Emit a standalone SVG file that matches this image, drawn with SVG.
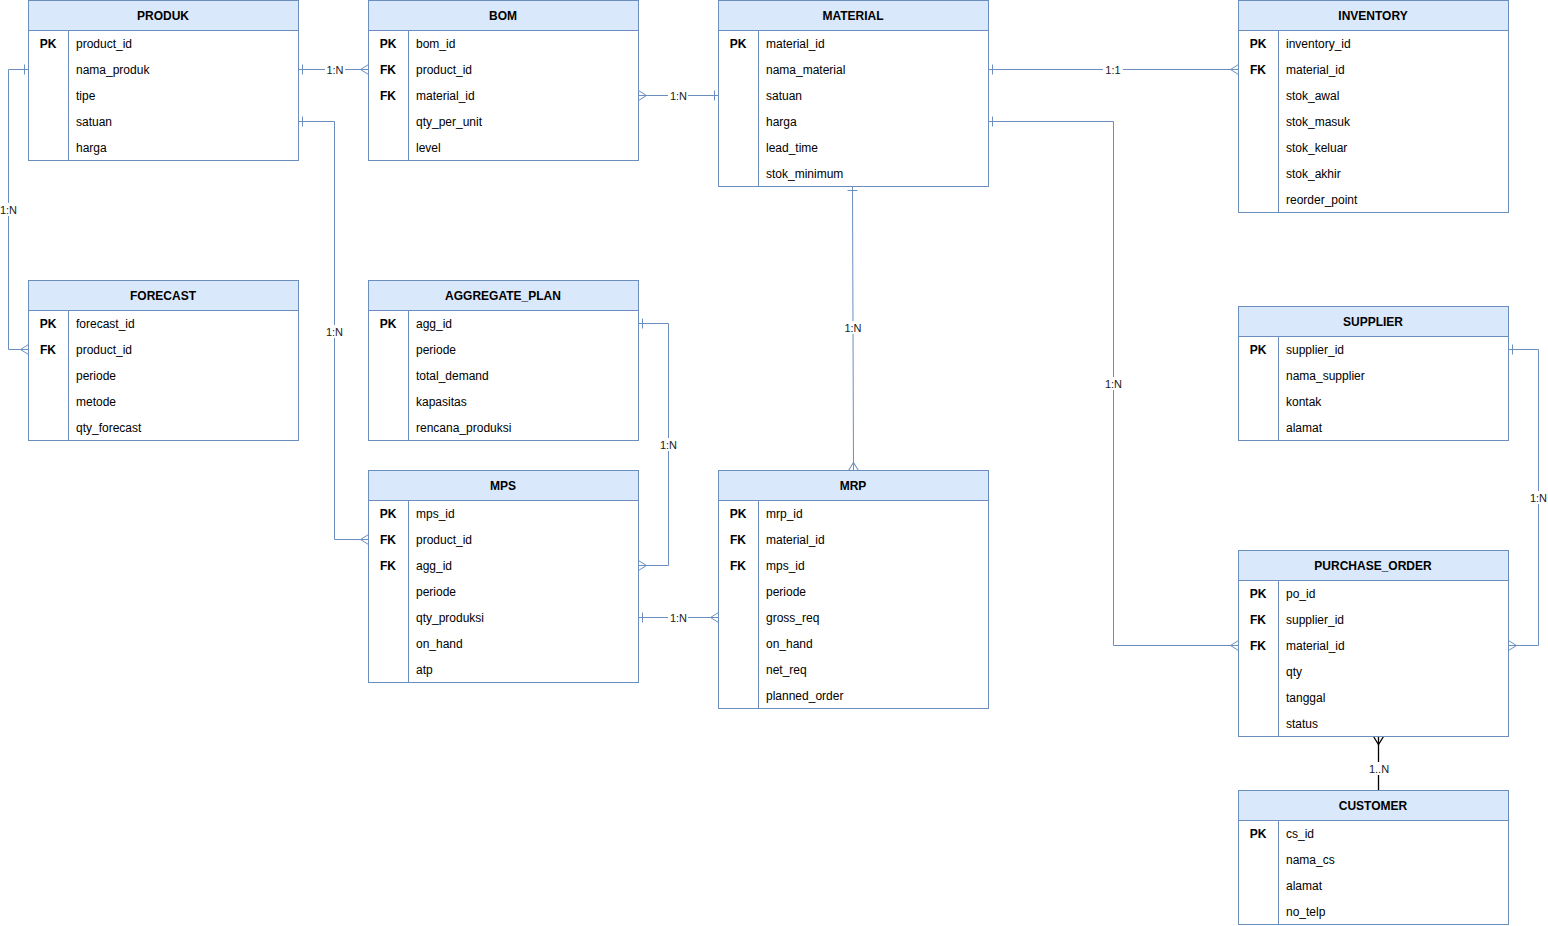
<svg xmlns="http://www.w3.org/2000/svg" width="1548" height="926" viewBox="0 0 1548 926">
<style>
text{font-family:"Liberation Sans",Arial,sans-serif;fill:#000}
.hdr{fill:#dae8fc;stroke:#6c8ebf;stroke-width:1}
.body{fill:#fff;stroke:#6c8ebf;stroke-width:1}
.div{stroke:#6c8ebf;stroke-width:1}
.title{font-size:12px;font-weight:bold;text-anchor:middle}
.key{font-size:12px;font-weight:bold;text-anchor:middle}
.fld{font-size:12px}
.conn{fill:none;stroke:#6c8ebf;stroke-width:1}
.dark{fill:none;stroke:#000;stroke-width:1.3}
.lbl{font-size:11px;text-anchor:middle;fill:#1a1a1a}
.lblbg{fill:#fff}
</style>
<defs>
<marker id="one" markerUnits="userSpaceOnUse" orient="auto-start-reverse" overflow="visible" markerWidth="1" markerHeight="1" refX="0" refY="0">
<path d="M-4,-5 V5" fill="none" stroke="#6c8ebf" stroke-width="1"/>
</marker>
<marker id="many" markerUnits="userSpaceOnUse" orient="auto-start-reverse" overflow="visible" markerWidth="1" markerHeight="1" refX="0" refY="0">
<path d="M0,-5 L-8,0 L0,5" fill="none" stroke="#6c8ebf" stroke-width="1"/>
</marker>
<marker id="manyDark" markerUnits="userSpaceOnUse" orient="auto-start-reverse" overflow="visible" markerWidth="1" markerHeight="1" refX="0" refY="0">
<path d="M0,-5 L-8,0 L0,5" fill="none" stroke="#000" stroke-width="1.3"/>
</marker>
</defs>
<rect width="1548" height="926" fill="#fff"/>

<g id="connectors">
<path class="conn" d="M298.5,69.5 H368.5" marker-start="url(#one)" marker-end="url(#many)"/>
<path class="conn" d="M28.5,69.5 H8.5 V349.5 H28.5" marker-start="url(#one)" marker-end="url(#many)"/>
<path class="conn" d="M298.5,121.5 H334.5 V539.5 H368.5" marker-start="url(#one)" marker-end="url(#many)"/>
<path class="conn" d="M638.5,95.5 H718.5" marker-start="url(#many)" marker-end="url(#one)"/>
<path class="conn" d="M988.5,69.5 H1238.5" marker-start="url(#one)" marker-end="url(#many)"/>
<path class="conn" d="M988.5,121.5 H1113.5 V645.5 H1238.5" marker-start="url(#one)" marker-end="url(#many)"/>
<path class="conn" d="M852.5,186.5 L853.5,470.5" marker-start="url(#one)" marker-end="url(#many)"/>
<path class="conn" d="M638.5,323.5 H668.5 V565.5 H638.5" marker-start="url(#one)" marker-end="url(#many)"/>
<path class="conn" d="M638.5,617.5 H718.5" marker-start="url(#one)" marker-end="url(#many)"/>
<path class="conn" d="M1508.5,349.5 H1538.5 V645.5 H1508.5" marker-start="url(#one)" marker-end="url(#many)"/>
<path class="dark" d="M1378.5,790 V736.5" marker-end="url(#manyDark)"/>

<rect class="lblbg" x="325" y="63" width="20" height="13"/><text class="lbl" x="335" y="73.5">1:N</text>
<rect class="lblbg" x="0" y="203" width="18" height="13"/><text class="lbl" x="8.5" y="213.5">1:N</text>
<rect class="lblbg" x="324" y="325" width="20" height="13"/><text class="lbl" x="334.5" y="335.5">1:N</text>
<rect class="lblbg" x="668" y="89" width="20" height="13"/><text class="lbl" x="678.5" y="99.5">1:N</text>
<rect class="lblbg" x="1103" y="63" width="20" height="13"/><text class="lbl" x="1113" y="73.5">1:1</text>
<rect class="lblbg" x="1103" y="377" width="20" height="13"/><text class="lbl" x="1113.5" y="387.5">1:N</text>
<rect class="lblbg" x="843" y="321" width="20" height="13"/><text class="lbl" x="853" y="331.5">1:N</text>
<rect class="lblbg" x="658" y="438" width="20" height="13"/><text class="lbl" x="668.5" y="448.5">1:N</text>
<rect class="lblbg" x="668" y="611" width="20" height="13"/><text class="lbl" x="678.5" y="621.5">1:N</text>
<rect class="lblbg" x="1528" y="491" width="20" height="13"/><text class="lbl" x="1538.5" y="501.5">1:N</text>
<rect class="lblbg" x="1367" y="762" width="24" height="13"/><text class="lbl" x="1379" y="772.5">1..N</text>
</g>

<g id="produk" transform="translate(28,0)">
<rect class="hdr" x="0.5" y="0.5" width="270" height="30"/>
<rect class="body" x="0.5" y="30.5" width="270" height="130"/>
<line class="div" x1="40.5" y1="30.5" x2="40.5" y2="160.5"/>
<text class="title" x="135" y="20">PRODUK</text>
<text class="key" x="20" y="48">PK</text>
<text class="fld" x="48" y="48">product_id</text>
<text class="fld" x="48" y="74">nama_produk</text>
<text class="fld" x="48" y="100">tipe</text>
<text class="fld" x="48" y="126">satuan</text>
<text class="fld" x="48" y="152">harga</text>
</g>

<g id="bom" transform="translate(368,0)">
<rect class="hdr" x="0.5" y="0.5" width="270" height="30"/>
<rect class="body" x="0.5" y="30.5" width="270" height="130"/>
<line class="div" x1="40.5" y1="30.5" x2="40.5" y2="160.5"/>
<text class="title" x="135" y="20">BOM</text>
<text class="key" x="20" y="48">PK</text>
<text class="fld" x="48" y="48">bom_id</text>
<text class="key" x="20" y="74">FK</text>
<text class="fld" x="48" y="74">product_id</text>
<text class="key" x="20" y="100">FK</text>
<text class="fld" x="48" y="100">material_id</text>
<text class="fld" x="48" y="126">qty_per_unit</text>
<text class="fld" x="48" y="152">level</text>
</g>

<g id="material" transform="translate(718,0)">
<rect class="hdr" x="0.5" y="0.5" width="270" height="30"/>
<rect class="body" x="0.5" y="30.5" width="270" height="156"/>
<line class="div" x1="40.5" y1="30.5" x2="40.5" y2="186.5"/>
<text class="title" x="135" y="20">MATERIAL</text>
<text class="key" x="20" y="48">PK</text>
<text class="fld" x="48" y="48">material_id</text>
<text class="fld" x="48" y="74">nama_material</text>
<text class="fld" x="48" y="100">satuan</text>
<text class="fld" x="48" y="126">harga</text>
<text class="fld" x="48" y="152">lead_time</text>
<text class="fld" x="48" y="178">stok_minimum</text>
</g>

<g id="inventory" transform="translate(1238,0)">
<rect class="hdr" x="0.5" y="0.5" width="270" height="30"/>
<rect class="body" x="0.5" y="30.5" width="270" height="182"/>
<line class="div" x1="40.5" y1="30.5" x2="40.5" y2="212.5"/>
<text class="title" x="135" y="20">INVENTORY</text>
<text class="key" x="20" y="48">PK</text>
<text class="fld" x="48" y="48">inventory_id</text>
<text class="key" x="20" y="74">FK</text>
<text class="fld" x="48" y="74">material_id</text>
<text class="fld" x="48" y="100">stok_awal</text>
<text class="fld" x="48" y="126">stok_masuk</text>
<text class="fld" x="48" y="152">stok_keluar</text>
<text class="fld" x="48" y="178">stok_akhir</text>
<text class="fld" x="48" y="204">reorder_point</text>
</g>

<g id="forecast" transform="translate(28,280)">
<rect class="hdr" x="0.5" y="0.5" width="270" height="30"/>
<rect class="body" x="0.5" y="30.5" width="270" height="130"/>
<line class="div" x1="40.5" y1="30.5" x2="40.5" y2="160.5"/>
<text class="title" x="135" y="20">FORECAST</text>
<text class="key" x="20" y="48">PK</text>
<text class="fld" x="48" y="48">forecast_id</text>
<text class="key" x="20" y="74">FK</text>
<text class="fld" x="48" y="74">product_id</text>
<text class="fld" x="48" y="100">periode</text>
<text class="fld" x="48" y="126">metode</text>
<text class="fld" x="48" y="152">qty_forecast</text>
</g>

<g id="aggregate_plan" transform="translate(368,280)">
<rect class="hdr" x="0.5" y="0.5" width="270" height="30"/>
<rect class="body" x="0.5" y="30.5" width="270" height="130"/>
<line class="div" x1="40.5" y1="30.5" x2="40.5" y2="160.5"/>
<text class="title" x="135" y="20">AGGREGATE_PLAN</text>
<text class="key" x="20" y="48">PK</text>
<text class="fld" x="48" y="48">agg_id</text>
<text class="fld" x="48" y="74">periode</text>
<text class="fld" x="48" y="100">total_demand</text>
<text class="fld" x="48" y="126">kapasitas</text>
<text class="fld" x="48" y="152">rencana_produksi</text>
</g>

<g id="supplier" transform="translate(1238,306)">
<rect class="hdr" x="0.5" y="0.5" width="270" height="30"/>
<rect class="body" x="0.5" y="30.5" width="270" height="104"/>
<line class="div" x1="40.5" y1="30.5" x2="40.5" y2="134.5"/>
<text class="title" x="135" y="20">SUPPLIER</text>
<text class="key" x="20" y="48">PK</text>
<text class="fld" x="48" y="48">supplier_id</text>
<text class="fld" x="48" y="74">nama_supplier</text>
<text class="fld" x="48" y="100">kontak</text>
<text class="fld" x="48" y="126">alamat</text>
</g>

<g id="mps" transform="translate(368,470)">
<rect class="hdr" x="0.5" y="0.5" width="270" height="30"/>
<rect class="body" x="0.5" y="30.5" width="270" height="182"/>
<line class="div" x1="40.5" y1="30.5" x2="40.5" y2="212.5"/>
<text class="title" x="135" y="20">MPS</text>
<text class="key" x="20" y="48">PK</text>
<text class="fld" x="48" y="48">mps_id</text>
<text class="key" x="20" y="74">FK</text>
<text class="fld" x="48" y="74">product_id</text>
<text class="key" x="20" y="100">FK</text>
<text class="fld" x="48" y="100">agg_id</text>
<text class="fld" x="48" y="126">periode</text>
<text class="fld" x="48" y="152">qty_produksi</text>
<text class="fld" x="48" y="178">on_hand</text>
<text class="fld" x="48" y="204">atp</text>
</g>

<g id="mrp" transform="translate(718,470)">
<rect class="hdr" x="0.5" y="0.5" width="270" height="30"/>
<rect class="body" x="0.5" y="30.5" width="270" height="208"/>
<line class="div" x1="40.5" y1="30.5" x2="40.5" y2="238.5"/>
<text class="title" x="135" y="20">MRP</text>
<text class="key" x="20" y="48">PK</text>
<text class="fld" x="48" y="48">mrp_id</text>
<text class="key" x="20" y="74">FK</text>
<text class="fld" x="48" y="74">material_id</text>
<text class="key" x="20" y="100">FK</text>
<text class="fld" x="48" y="100">mps_id</text>
<text class="fld" x="48" y="126">periode</text>
<text class="fld" x="48" y="152">gross_req</text>
<text class="fld" x="48" y="178">on_hand</text>
<text class="fld" x="48" y="204">net_req</text>
<text class="fld" x="48" y="230">planned_order</text>
</g>

<g id="purchase_order" transform="translate(1238,550)">
<rect class="hdr" x="0.5" y="0.5" width="270" height="30"/>
<rect class="body" x="0.5" y="30.5" width="270" height="156"/>
<line class="div" x1="40.5" y1="30.5" x2="40.5" y2="186.5"/>
<text class="title" x="135" y="20">PURCHASE_ORDER</text>
<text class="key" x="20" y="48">PK</text>
<text class="fld" x="48" y="48">po_id</text>
<text class="key" x="20" y="74">FK</text>
<text class="fld" x="48" y="74">supplier_id</text>
<text class="key" x="20" y="100">FK</text>
<text class="fld" x="48" y="100">material_id</text>
<text class="fld" x="48" y="126">qty</text>
<text class="fld" x="48" y="152">tanggal</text>
<text class="fld" x="48" y="178">status</text>
</g>

<g id="customer" transform="translate(1238,790)">
<rect class="hdr" x="0.5" y="0.5" width="270" height="30"/>
<rect class="body" x="0.5" y="30.5" width="270" height="104"/>
<line class="div" x1="40.5" y1="30.5" x2="40.5" y2="134.5"/>
<text class="title" x="135" y="20">CUSTOMER</text>
<text class="key" x="20" y="48">PK</text>
<text class="fld" x="48" y="48">cs_id</text>
<text class="fld" x="48" y="74">nama_cs</text>
<text class="fld" x="48" y="100">alamat</text>
<text class="fld" x="48" y="126">no_telp</text>
</g>
</svg>
